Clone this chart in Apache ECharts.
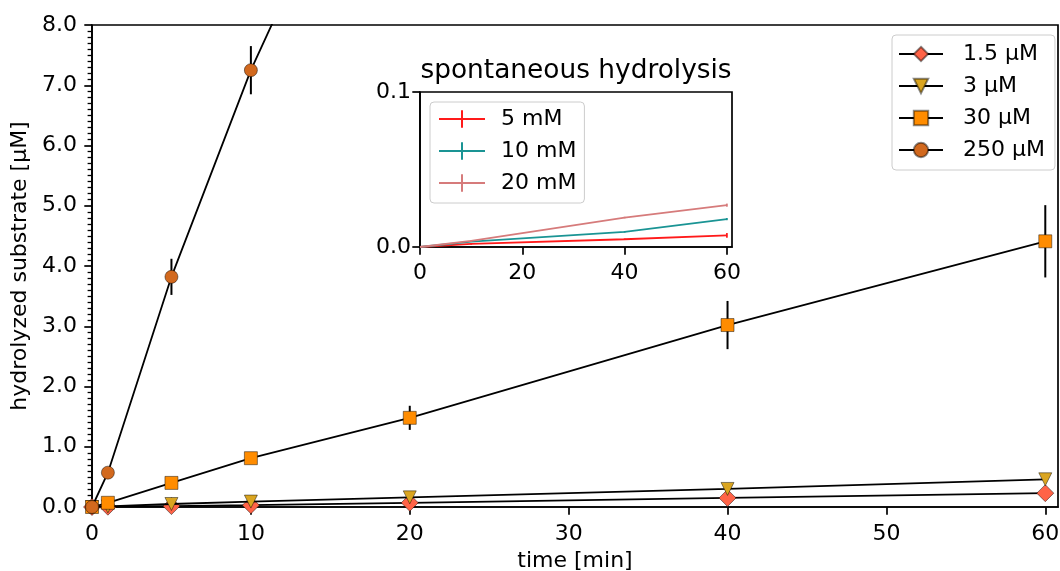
<!DOCTYPE html>
<html>
<head>
<meta charset="utf-8">
<title>hydrolysis</title>
<script src="https://cdn.jsdelivr.net/npm/echarts@6.0.0/dist/echarts.min.js"></script>
<style>
  html, body { margin: 0; padding: 0; background: #fff; }
  #chart { width: 1060px; height: 571px; }
</style>
</head>
<body>
<div id="chart"></div>
<script>
// main plot: time points [min]
var times = [0, 1, 5, 10, 20, 40, 60];
var seriesNames = ['1.5 µM', '3 µM', '30 µM', '250 µM'];
var values15 = [0, 0.005, 0.015, 0.03, 0.07, 0.15, 0.23];
var values3 = [0, 0.01, 0.05, 0.09, 0.16, 0.30, 0.46];
var values30 = [0, 0.07, 0.40, 0.81, 1.48, 3.02, 4.41];
var values250 = [0, 0.57, 3.82, 7.25, 13.0, null, null];
var err15 = [0, 0, 0.01, 0.01, 0.02, 0.03, 0.04];
var err3 = [0, 0, 0.01, 0.02, 0.03, 0.04, 0.05];
var err30 = [0, 0.01, 0.04, 0.06, 0.20, 0.40, 0.60];
var err250 = [0, 0.05, 0.30, 0.40, 0.60, null, null];
var xTicks = [0, 10, 20, 30, 40, 50, 60];

// inset: spontaneous hydrolysis
var insetTimes = [0, 10, 40, 60];
var insetNames = ['5 mM', '10 mM', '20 mM'];
var inset5 = [0, 0.002, 0.005, 0.0075];
var inset10 = [0, 0.0035, 0.0098, 0.018];
var inset20 = [0, 0.004, 0.019, 0.027];
var insetErr5 = [0, 0.0005, 0.0005, 0.0015];
var insetErr10 = [0, 0.0003, 0.0005, 0.0007];
var insetErr20 = [0, 0.0005, 0.0005, 0.001];
var insetXTicks = [0, 20, 40, 60];

var FONT = 'DejaVu Sans';
var mainColors = ['#ff6347', '#daa520', '#ff8c00', '#d2691e'];
var mainSymbols = ['diamond', 'triangle', 'rect', 'circle'];
var mainSymbolSize = [17, 13, 13, 13];
var mainRotate = [0, 180, 0, 0];
var insetColors = ['#ff1a1a', '#1a9494', '#d67b7b'];

function pairs(xs, ys) {
  var out = [];
  for (var i = 0; i < xs.length; i++) {
    if (ys[i] != null) out.push([xs[i], ys[i]]);
  }
  return out;
}
function triples(xs, ys, es) {
  var out = [];
  for (var i = 0; i < xs.length; i++) {
    if (ys[i] != null && es[i] != null) out.push([xs[i], ys[i], es[i]]);
  }
  return out;
}
function errRender(color, width) {
  return function (params, api) {
    var x = api.value(0), y = api.value(1), e = api.value(2);
    var lo = api.coord([x, y - e]);
    var hi = api.coord([x, y + e]);
    return {
      type: 'line',
      shape: { x1: lo[0], y1: lo[1], x2: hi[0], y2: hi[1] },
      style: { stroke: color, lineWidth: width }
    };
  };
}

var myChart = echarts.init(document.getElementById('chart'), null, { renderer: 'canvas' });

var mainVals = [values15, values3, values30, values250];
var mainErrs = [err15, err3, err30, err250];
var insetVals = [inset5, inset10, inset20];
var insetErrs = [insetErr5, insetErr10, insetErr20];

var series = [];
for (var i = 0; i < 4; i++) {
  series.push({
    name: seriesNames[i] + ' err',
    type: 'custom',
    xAxisIndex: 0, yAxisIndex: 0,
    z: 2 + i * 2,
    silent: true,
    renderItem: errRender('#000', 2),
    data: triples(times, mainVals[i], mainErrs[i])
  });
  series.push({
    name: seriesNames[i],
    type: 'line',
    xAxisIndex: 0, yAxisIndex: 0,
    z: 3 + i * 2,
    symbol: mainSymbols[i],
    symbolSize: mainSymbolSize[i],
    symbolRotate: mainRotate[i],
    showAllSymbol: true,
    clip: true,
    lineStyle: { color: '#000', width: 1.8 },
    itemStyle: { color: mainColors[i], borderColor: 'rgba(0,0,0,0.45)', borderWidth: 1, opacity: 1 },
    emphasis: { disabled: true },
    data: pairs(times, mainVals[i])
  });
}
for (var j = 0; j < 3; j++) {
  series.push({
    name: insetNames[j],
    type: 'line',
    xAxisIndex: 1, yAxisIndex: 1,
    z: 20 + j,
    symbol: 'line',
    symbolRotate: 90,
    showSymbol: false,
    lineStyle: { color: insetColors[j], width: 1.8 },
    itemStyle: { color: insetColors[j], borderColor: insetColors[j], borderWidth: 1.8 },
    emphasis: { disabled: true },
    data: pairs(insetTimes, insetVals[j])
  });
  series.push({
    name: insetNames[j] + ' err',
    type: 'custom',
    xAxisIndex: 1, yAxisIndex: 1,
    z: 20 + j,
    silent: true,
    renderItem: errRender(insetColors[j], 1.8),
    data: triples(insetTimes, insetVals[j], insetErrs[j])
  });
}

var option = {
  animation: false,
  textStyle: { fontFamily: FONT },
  grid: [
    { left: 92, top: 25, width: 966, height: 482, outerBoundsMode: 'none', containLabel: false,
      show: true, borderColor: '#000', borderWidth: 1.7, backgroundColor: 'transparent' },
    { left: 420, top: 92, width: 312, height: 155, outerBoundsMode: 'none', containLabel: false,
      show: true, borderColor: '#000', borderWidth: 1.7, backgroundColor: '#fff', z: 10 }
  ],
  xAxis: [
    {
      type: 'value', gridIndex: 0, min: 0, max: 60.8,
      name: 'time [min]', nameLocation: 'middle', nameGap: 42,
      nameTextStyle: { fontSize: 22, color: '#000', fontFamily: FONT },
      axisLine: { lineStyle: { color: '#000', width: 1.7 } },
      axisTick: { show: true, length: 7.7, customValues: xTicks, lineStyle: { color: '#000', width: 1.7 } },
      axisLabel: { fontSize: 22, color: '#000', margin: 16, customValues: xTicks, fontFamily: FONT },
      splitLine: { show: false }
    },
    {
      type: 'value', gridIndex: 1, min: 0, max: 61, z: 11,
      axisLine: { lineStyle: { color: '#000', width: 1.7 } },
      axisTick: { show: true, length: 7.7, customValues: insetXTicks, lineStyle: { color: '#000', width: 1.7 } },
      axisLabel: { fontSize: 22, color: '#000', margin: 15, customValues: insetXTicks, fontFamily: FONT },
      splitLine: { show: false }
    }
  ],
  yAxis: [
    {
      type: 'value', gridIndex: 0, min: 0, max: 8, interval: 1,
      name: 'hydrolyzed substrate [µM]', nameLocation: 'middle', nameGap: 60, nameRotate: 90,
      nameTextStyle: { fontSize: 22, color: '#000', fontFamily: FONT },
      axisLine: { show: true, lineStyle: { color: '#000', width: 1.7 } },
      axisTick: { show: true, length: 7.7, lineStyle: { color: '#000', width: 1.7 } },
      minorTick: { show: true, splitNumber: 10, length: 4.4, lineStyle: { color: '#000', width: 1.3 } },
      axisLabel: { fontSize: 22, color: '#000', margin: 15, fontFamily: FONT, formatter: function (v) { return v.toFixed(1); } },
      splitLine: { show: false }
    },
    {
      type: 'value', gridIndex: 1, min: 0, max: 0.1, interval: 0.1, z: 11,
      axisLine: { show: true, lineStyle: { color: '#000', width: 1.7 } },
      axisTick: { show: true, length: 7.7, lineStyle: { color: '#000', width: 1.7 } },
      axisLabel: { fontSize: 22, color: '#000', margin: 9, fontFamily: FONT, formatter: function (v) { return v.toFixed(1); } },
      splitLine: { show: false }
    }
  ],
  legend: [
    {
      data: seriesNames,
      orient: 'vertical',
      left: 892, top: 35,
      padding: [8, 10, 9, 6],
      itemGap: 10,
      itemWidth: 44, itemHeight: 18,
      backgroundColor: 'rgba(255,255,255,0.8)',
      borderColor: '#cccccc', borderWidth: 1, borderRadius: 4,
      selectedMode: false,
      textStyle: { fontSize: 22, lineHeight: 22, color: '#000', fontFamily: FONT, padding: [0, 0, 0, 15] },
      z: 30
    },
    {
      data: insetNames,
      orient: 'vertical',
      left: 430, top: 102,
      padding: [6, 8, 9, 8],
      itemGap: 10,
      itemWidth: 46, itemHeight: 22,
      backgroundColor: 'rgba(255,255,255,0.8)',
      borderColor: '#cccccc', borderWidth: 1, borderRadius: 4,
      selectedMode: false,
      textStyle: { fontSize: 22, lineHeight: 22, color: '#000', fontFamily: FONT, padding: [0, 0, 0, 11] },
      z: 30
    }
  ],
  graphic: [
    {
      type: 'text', x: 576, y: 71, z: 40,
      style: { text: 'spontaneous hydrolysis', font: '26.4px "DejaVu Sans"', fill: '#000', align: 'center', verticalAlign: 'middle' }
    }
  ],
  series: series
};

myChart.setOption(option);
window.addEventListener('resize', function () {
  myChart.resize();
});
</script>
</body>
</html>
